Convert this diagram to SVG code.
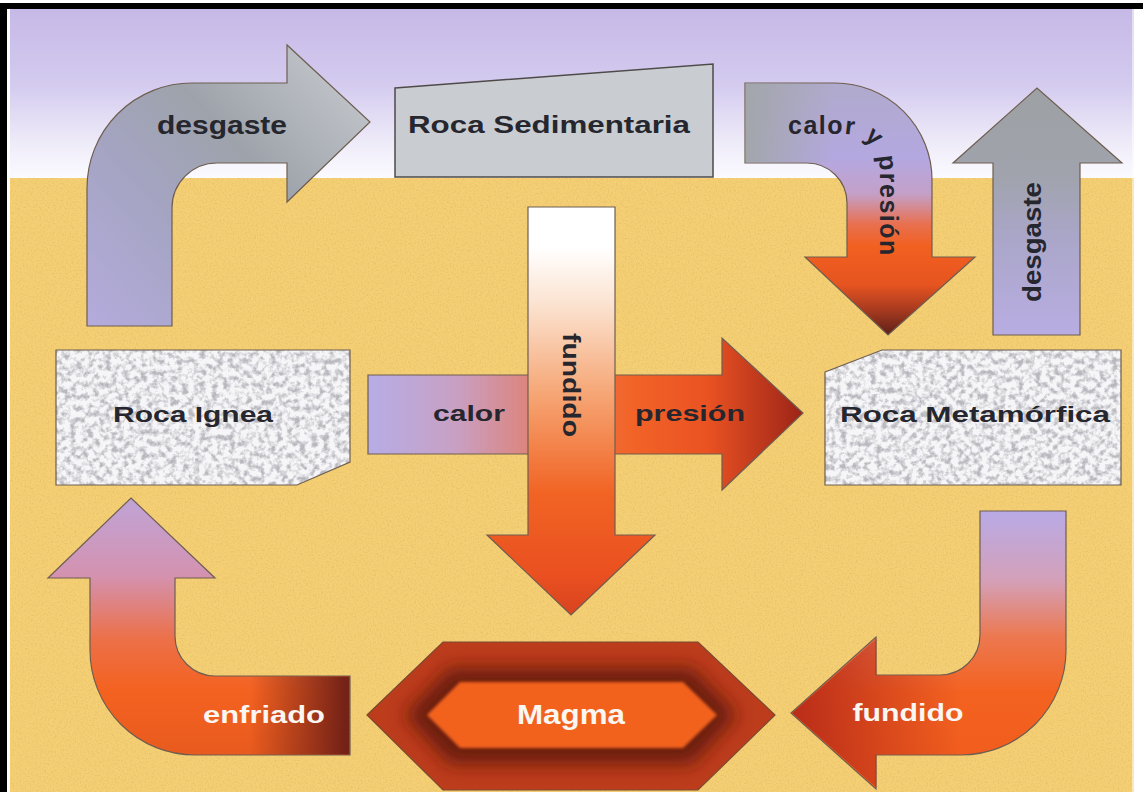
<svg xmlns="http://www.w3.org/2000/svg" width="1143" height="792" viewBox="0 0 1143 792">
<style>
.lbl{font-family:"Liberation Sans",Arial,sans-serif;font-weight:bold;}
.dark{fill:#26262e;}
.light{fill:#faf6f2;}
.edge{stroke:#6e5e50;stroke-width:1.2;}
</style>
<defs>
<linearGradient id="sky" x1="0" y1="9" x2="0" y2="178" gradientUnits="userSpaceOnUse">
<stop offset="0" stop-color="#c6b9e7"/><stop offset="0.45" stop-color="#d4cbef"/><stop offset="0.8" stop-color="#efecf9"/><stop offset="1" stop-color="#fbfaff"/>
</linearGradient>
<linearGradient id="gTL" x1="87" y1="326" x2="370" y2="60" gradientUnits="userSpaceOnUse">
<stop offset="0" stop-color="#b4abdc"/><stop offset="0.35" stop-color="#a4a4c2"/><stop offset="0.6" stop-color="#9ea3ab"/><stop offset="1" stop-color="#c8ccd0"/>
</linearGradient>
<linearGradient id="gTR" x1="0" y1="83" x2="0" y2="335" gradientUnits="userSpaceOnUse">
<stop offset="0" stop-color="#b0aacc"/><stop offset="0.3" stop-color="#b4a8e0"/><stop offset="0.44" stop-color="#c4a0c8"/><stop offset="0.56" stop-color="#e87050"/><stop offset="0.65" stop-color="#f26020"/><stop offset="0.8" stop-color="#e65420"/><stop offset="0.9" stop-color="#a83a20"/><stop offset="1" stop-color="#5e2018"/>
</linearGradient>
<linearGradient id="gTRo" x1="745" y1="0" x2="835" y2="0" gradientUnits="userSpaceOnUse">
<stop offset="0" stop-color="#a2a6aa" stop-opacity="1"/><stop offset="1" stop-color="#a2a6aa" stop-opacity="0"/>
</linearGradient>
<linearGradient id="gRD" x1="0" y1="88" x2="0" y2="335" gradientUnits="userSpaceOnUse">
<stop offset="0" stop-color="#9da1a4"/><stop offset="0.35" stop-color="#a0a3ac"/><stop offset="0.6" stop-color="#aaa6c8"/><stop offset="1" stop-color="#b8ade2"/>
</linearGradient>
<linearGradient id="gH" x1="368" y1="0" x2="803" y2="0" gradientUnits="userSpaceOnUse">
<stop offset="0" stop-color="#b6ade6"/><stop offset="0.2" stop-color="#c8a0c4"/><stop offset="0.4" stop-color="#e08070"/><stop offset="0.6" stop-color="#f26428"/><stop offset="0.78" stop-color="#ea5222"/><stop offset="1" stop-color="#9c2418"/>
</linearGradient>
<linearGradient id="gV" x1="0" y1="207" x2="0" y2="615" gradientUnits="userSpaceOnUse">
<stop offset="0" stop-color="#ffffff"/><stop offset="0.1" stop-color="#ffffff"/><stop offset="0.25" stop-color="#fbe0cc"/><stop offset="0.45" stop-color="#f6a878"/><stop offset="0.7" stop-color="#f16424"/><stop offset="0.9" stop-color="#ea5020"/><stop offset="1" stop-color="#d84420"/>
</linearGradient>
<linearGradient id="gEnf" x1="0" y1="498" x2="0" y2="755" gradientUnits="userSpaceOnUse">
<stop offset="0" stop-color="#bfa4d6"/><stop offset="0.3" stop-color="#d492b0"/><stop offset="0.55" stop-color="#ec7048"/><stop offset="0.75" stop-color="#f46220"/><stop offset="1" stop-color="#e85a1e"/>
</linearGradient>
<linearGradient id="gEnfo" x1="250" y1="0" x2="345" y2="0" gradientUnits="userSpaceOnUse">
<stop offset="0" stop-color="#6a1c16" stop-opacity="0"/><stop offset="1" stop-color="#6a1c16" stop-opacity="0.92"/>
</linearGradient>
<linearGradient id="gFun" x1="0" y1="511" x2="0" y2="790" gradientUnits="userSpaceOnUse">
<stop offset="0" stop-color="#b8aae6"/><stop offset="0.25" stop-color="#d4a0b8"/><stop offset="0.45" stop-color="#ec7850"/><stop offset="0.65" stop-color="#f46220"/><stop offset="1" stop-color="#ee5a1c"/>
</linearGradient>
<linearGradient id="gFuno" x1="960" y1="0" x2="795" y2="0" gradientUnits="userSpaceOnUse">
<stop offset="0" stop-color="#b02418" stop-opacity="0"/><stop offset="1" stop-color="#b02418" stop-opacity="0.85"/>
</linearGradient>
<filter id="speckle" x="0" y="0" width="100%" height="100%" color-interpolation-filters="sRGB">
<feTurbulence type="fractalNoise" baseFrequency="0.17" numOctaves="3" seed="11" result="n"/>
<feColorMatrix in="n" type="matrix" values="0 0 0 0 0.72  0 0 0 0 0.72  0 0 0 0 0.75  1 0 0 0 0"/>
<feComponentTransfer><feFuncA type="linear" slope="3.2" intercept="-1.35"/></feComponentTransfer>
</filter>
<filter id="grain" x="0" y="0" width="100%" height="100%" color-interpolation-filters="sRGB">
<feTurbulence type="fractalNoise" baseFrequency="0.6" numOctaves="2" seed="4" result="n"/>
<feColorMatrix in="n" type="matrix" values="0 0 0 0 0.6  0 0 0 0 0.45  0 0 0 0 0.2  1.2 0 0 0 -0.55"/>
</filter>
<filter id="soft" x="-20%" y="-40%" width="140%" height="180%"><feGaussianBlur stdDeviation="9"/></filter>
<filter id="soft2" x="-10%" y="-20%" width="120%" height="140%"><feGaussianBlur stdDeviation="1.5"/></filter>
<clipPath id="cIgnea"><polygon points="56,350 350,350 350,462 297,485 56,485"/></clipPath>
<clipPath id="cMeta"><polygon points="825,372 882,350 1121,350 1121,485 825,485"/></clipPath>
<clipPath id="cMagma"><polygon points="367,715 443,642 698,642 775,715 698,790 443,790"/></clipPath>
</defs>

<g id="background">
<rect x="0" y="0" width="1143" height="792" fill="#ffffff"/>
<rect x="10" y="9" width="1124" height="170" fill="url(#sky)"/>
<rect x="10" y="178" width="1124" height="614" fill="#f5cf74"/>
<rect x="10" y="178" width="1124" height="614" filter="url(#grain)" opacity="0.3"/>
<rect x="1132" y="9" width="5" height="783" fill="#ffffff" opacity="0.5"/>
<rect x="0" y="3" width="1143" height="6" fill="#000000"/>
<rect x="0" y="3" width="7" height="789" fill="#000000"/>
</g>

<g id="connectors">
<g id="arrow-desgaste-top">
<path class="edge" fill="url(#gTL)" d="M87,326 L87,188 A105,105 0 0 1 192,83 L287,83 L287,45 L370,122 L287,202 L287,163 L217,163 A45,45 0 0 0 172,208 L172,326 Z"/>
<text class="lbl dark" x="222" y="134" font-size="25" text-anchor="middle" textLength="130" lengthAdjust="spacingAndGlyphs">desgaste</text>
</g>
<g id="arrow-calor-presion">
<path class="edge" fill="url(#gTR)" d="M745,83 L835,83 A97,97 0 0 1 932,180 L932,257 L975,257 L888,335 L805,257 L847,257 L847,203 A40,40 0 0 0 807,163 L745,163 Z"/>
<path fill="url(#gTRo)" d="M745.6,83.6 L835,83.6 L835,162.4 L745.6,162.4 Z"/>
<path id="cpPath" fill="none" d="M745,134 L842,134 Q880,134 880,172 L880,340"/>
<text class="lbl dark" font-size="25" letter-spacing="1.5"><textPath href="#cpPath" startOffset="43">calor y presión</textPath></text>
</g>
<g id="arrow-desgaste-right">
<path class="edge" fill="url(#gRD)" d="M993,335 L993,163 L953,163 L1037,88 L1122,163 L1080,163 L1080,335 Z"/>
<text class="lbl dark" font-size="25" text-anchor="middle" transform="translate(1041,242) rotate(-90)" textLength="120" lengthAdjust="spacingAndGlyphs">desgaste</text>
</g>
<g id="arrow-calor-presion-center">
<path class="edge" fill="url(#gH)" d="M368,375 L722,375 L722,338 L803,413 L722,490 L722,454 L368,454 Z"/>
<text class="lbl dark" x="469" y="421" font-size="22" text-anchor="middle" textLength="72" lengthAdjust="spacingAndGlyphs">calor</text>
<text class="lbl dark" x="690" y="421" font-size="22" text-anchor="middle" textLength="110" lengthAdjust="spacingAndGlyphs">presión</text>
</g>
<g id="arrow-fundido-center">
<path class="edge" fill="url(#gV)" d="M528,207 L615,207 L615,535 L655,535 L571,615 L487,535 L528,535 Z"/>
<text class="lbl dark" font-size="24" text-anchor="middle" transform="translate(563,385) rotate(90)" textLength="104" lengthAdjust="spacingAndGlyphs">fundido</text>
</g>
<g id="arrow-enfriado">
<path class="edge" fill="url(#gEnf)" d="M131,498 L215,578 L175,578 L175,636 A40,40 0 0 0 215,676 L350,676 L350,755 L195,755 A105,105 0 0 1 90,650 L90,578 L48,578 Z"/>
<path fill="url(#gEnfo)" d="M250,676.6 L349.4,676.6 L349.4,754.4 L250,754.4 Z"/>
<text class="lbl light" x="264" y="723" font-size="24" text-anchor="middle" textLength="122" lengthAdjust="spacingAndGlyphs">enfriado</text>
</g>
<g id="arrow-fundido-bottom">
<path class="edge" fill="url(#gFun)" d="M980,511 L1066,511 L1066,650 A105,105 0 0 1 961,755 L876,755 L876,789 L791,713 L876,637 L876,675 L940,675 A40,40 0 0 0 980,635 Z"/>
<path fill="url(#gFuno)" d="M960,675.6 L876.6,675.6 L876.6,638.5 L792.2,713 L876.6,787.7 L876.6,754.4 L960,754.4 Z"/>
<text class="lbl light" x="908" y="721" font-size="24" text-anchor="middle" textLength="111" lengthAdjust="spacingAndGlyphs">fundido</text>
</g>
</g>

<g id="roca-sedimentaria">
<polygon points="395,88 713,64 713,177 395,177" fill="#c9cdd2" stroke="#4e4a48" stroke-width="1.5"/>
<text class="lbl dark" x="549" y="133" font-size="24" text-anchor="middle" textLength="282" lengthAdjust="spacingAndGlyphs">Roca Sedimentaria</text>
</g>

<g id="roca-ignea">
<polygon points="56,350 350,350 350,462 297,485 56,485" fill="#f6f6f8"/>
<rect x="56" y="350" width="294" height="135" filter="url(#speckle)" clip-path="url(#cIgnea)"/>
<polygon points="56,350 350,350 350,462 297,485 56,485" fill="none" stroke="#6e5e50" stroke-width="1.2"/>
<text class="lbl dark" x="193" y="422" font-size="22" text-anchor="middle" textLength="160" lengthAdjust="spacingAndGlyphs">Roca Ignea</text>
</g>

<g id="roca-metamorfica">
<polygon points="825,372 882,350 1121,350 1121,485 825,485" fill="#f6f6f8"/>
<rect x="825" y="350" width="296" height="135" filter="url(#speckle)" clip-path="url(#cMeta)"/>
<polygon points="825,372 882,350 1121,350 1121,485 825,485" fill="none" stroke="#6e5e50" stroke-width="1.2"/>
<text class="lbl dark" x="975" y="422" font-size="22" text-anchor="middle" textLength="270" lengthAdjust="spacingAndGlyphs">Roca Metamórfica</text>
</g>

<g id="magma">
<polygon points="367,715 443,642 698,642 775,715 698,790 443,790" fill="#bc3c1c"/>
<g clip-path="url(#cMagma)">
<polygon points="405,715 450,668 692,668 737,715 692,764 450,764" fill="#6a1a10" filter="url(#soft)"/>
</g>
<polygon points="367,715 443,642 698,642 775,715 698,790 443,790" fill="none" stroke="#7a4a30" stroke-width="1.2"/>
<polygon points="427,715 460,682 683,682 717,715 683,748 460,748" fill="#f2621e" filter="url(#soft2)"/>
<text class="lbl light" x="571" y="724" font-size="27" text-anchor="middle" textLength="108" lengthAdjust="spacingAndGlyphs">Magma</text>
</g>
</svg>
